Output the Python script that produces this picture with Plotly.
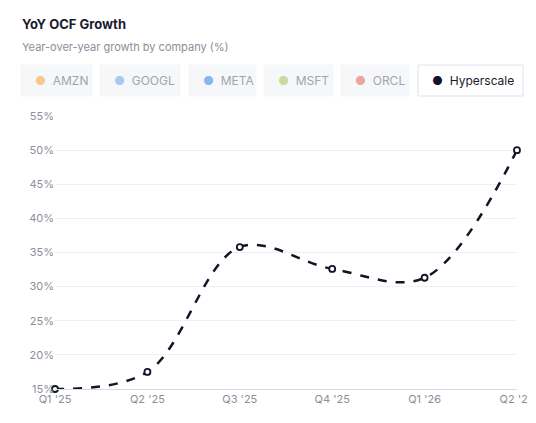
import plotly.graph_objects as go

quarters = ["Q1 '25", "Q2 '25", "Q3 '25", "Q4 '25", "Q1 '26", "Q2 '26"]
hyperscale = [15.0, 17.5, 35.8, 32.6, 31.3, 50.0]
legend_names = ["AMZN", "GOOGL", "META", "MSFT", "ORCL", "Hyperscale"]
legend_colors = ["#f8c98a", "#a9c8f2", "#8ab4ee", "#c5dc9a", "#e8a6a0", "#121527"]
pill_x = [13, 92, 181, 256, 333, 410]     # px left edge
pill_w = [71, 80, 67, 69, 68, 105]

W, H = 536, 423
L, R, T, B = 47, 27, 108, 42
PW, PH = W - L - R, H - T - B

def px(x):
    return (x - L) / PW

def py(y):
    return (H - B - y) / PH

fig = go.Figure()
fig.add_trace(go.Scatter(
    x=list(range(len(quarters))), y=hyperscale, mode="lines+markers",
    line=dict(color="#121527", width=2.5, dash="dash", shape="spline", smoothing=1.0),
    marker=dict(size=6, color="white", line=dict(color="#121527", width=1.8)),
    cliponaxis=False, showlegend=False, hoverinfo="skip"))

# pill legend
for i, (n, c) in enumerate(zip(legend_names, legend_colors)):
    x0, w = pill_x[i], pill_w[i]
    y0, y1 = 57, 88
    active = n == "Hyperscale"
    fig.add_shape(type="rect", xref="paper", yref="paper",
                  x0=px(x0), x1=px(x0 + w), y0=py(y1), y1=py(y0),
                  fillcolor="white" if active else "#f6f7f9",
                  line=dict(color="#dfe2e8" if active else "#f6f7f9", width=1), layer="below")
    fig.add_annotation(xref="paper", yref="paper", x=px(x0 + 12), y=py(72.5),
                       text=f"<span style='color:{c}'>●</span>&nbsp;&nbsp;{n}",
                       showarrow=False, xanchor="left", yanchor="middle",
                       font=dict(size=12, color="#1a1a2e" if active else "#a0a5ae",
                                 family="Inter"))

fig.add_annotation(xref="paper", yref="paper", x=px(12), y=py(16),
                   text="<b>YoY OCF Growth</b>", showarrow=False, xanchor="left", yanchor="middle",
                   font=dict(size=13, color="#1a1a2e", family="Inter"))
fig.add_annotation(xref="paper", yref="paper", x=px(12), y=py(39),
                   text="Year-over-year growth by company (%)", showarrow=False, xanchor="left",
                   yanchor="middle", font=dict(size=11, color="#8a8f99", family="Inter"))

fig.update_layout(
    width=W, height=H, margin=dict(l=L, r=R, t=T, b=B),
    paper_bgcolor="white", plot_bgcolor="white",
    font=dict(family="Inter", size=11, color="#8a8f99"),
    xaxis=dict(range=[0, 5], tickvals=list(range(6)), ticktext=quarters, showgrid=False,
               showline=True, linecolor="#d8dbe0", zeroline=False, ticks="", automargin=False),
    yaxis=dict(range=[15, 55], dtick=5, ticksuffix="%", gridcolor="#eef0f3",
               zeroline=False, showline=False, ticks="", automargin=False),
)
fig.write_html("out.html")
